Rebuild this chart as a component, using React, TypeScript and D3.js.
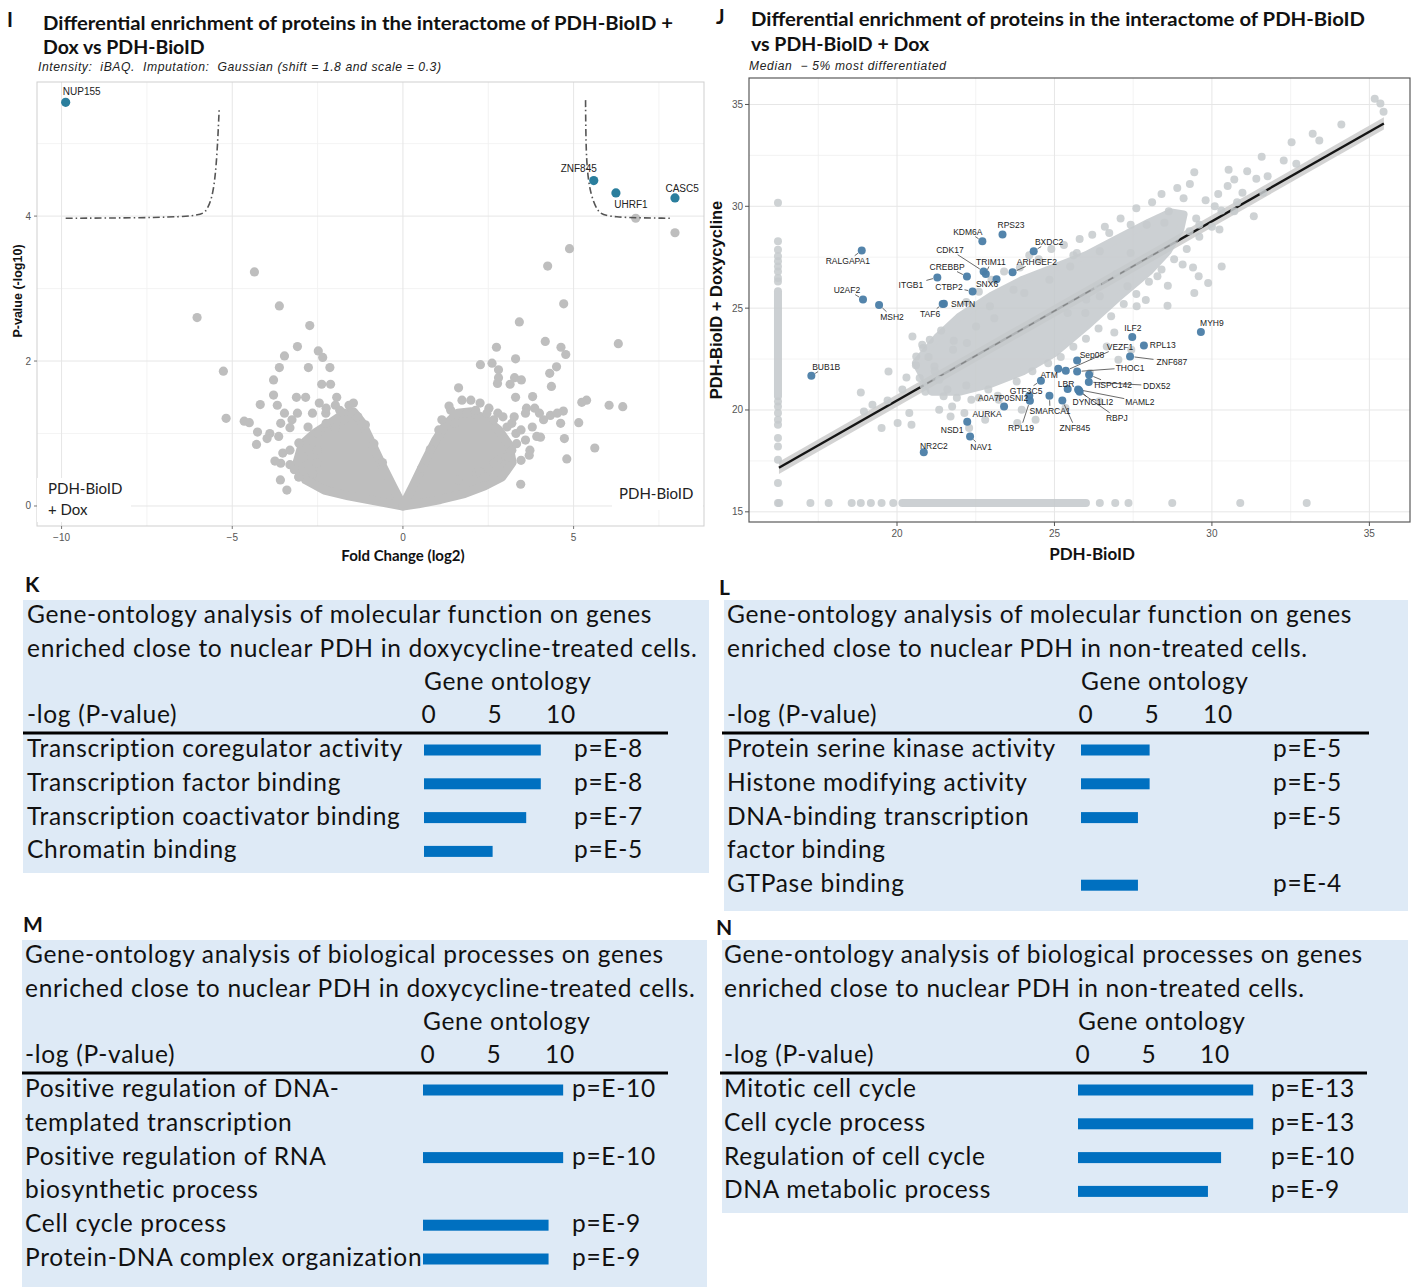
import React from 'react';
import * as d3 from 'd3';

// ---------- panel I : volcano ----------
const hitNames = ['NUP155', 'ZNF845', 'UHRF1', 'CASC5'];
const hitFc = [-9.88, 5.59, 6.24, 7.97];
const hitP = [5.57, 4.49, 4.32, 4.25];
const hitLabelFc = [-9.41, 5.15, 6.68, 8.18];
const hitLabelP = [5.72, 4.65, 4.16, 4.38];

const volFc = [
  6.82, 7.97, 4.88, 4.24, -4.35, -3.62, 4.71, -6.03, -2.73, 3.41, 6.31, 4.17, -3.09, 2.74, 4.63,
  -2.48, -3.47, 4.77, -2.35, 3.3, 2.61, 2.27, -3.62, -2.77, -2.14, -5.26, 4.5, 2.8, 4.3, 3.27,
  3.47, 2.8, -3.79, -2.38, -2.12, 3.14, 2.77, 1.63, 4.35, 3.8, 3.3, 5.38, 5.24, -3.79, -3.12,
  -2.85, -1.94, 6.04, 6.44, -4.18, -3.68, 3.62, 4.0, 4.7, 4.32, -5.18, -4.65, -4.5, -3.47, -3.09,
  5.15, 4.62, -4.26, -3.9, -4.29, 4.03, 4.73, 5.62, 4.8, -3.59, 2.88, 2.15, -3.31, -3.05, -3.52,
  -3.31, -3.05, -2.52, -1.73, -1.58, -1.32, -2.26, 1.14, 1.4, 1.73, 1.99, 2.26, 2.52, 2.78, 3.05,
  3.31, 3.19, 2.78, 2.26, 1.61,
  -3.58, -3.25, -2.78, -2.51, -2.25, -1.98, -1.72, -3.64, -3.98, -3.31, -2.91, -2.51, -3.58, -3.18,
  -2.65, -3.05, -1.98, -2.25, -2.45, -2.65, -1.85,
  1.53, 1.87, 2.13, 2.46, 2.66, 2.93, 3.19, 3.46, 3.79, 3.59, 3.92, 3.33, 3.72, 3.06, 2.66, 3.46,
  2.4, 3.26, 3.59, 3.86, 4.12, 4.52,
  -1.1, -0.85, -0.6, -1.45, 1.05, 0.8, 0.55, 1.35, -3.4, -3.75, 3.45, 3.7,
];
const volP = [
  3.97, 3.77, 3.55, 3.31, 3.23, 2.76, 2.79, 2.6, 2.49, 2.54, 2.24, 2.27, 2.2, 2.19, 2.19,
  2.14, 2.07, 2.09, 2.05, 2.03, 1.97, 1.95, 1.91, 1.91, 1.91, 1.86, 1.92, 1.88, 1.83, 1.77,
  1.74, 1.77, 1.74, 1.68, 1.68, 1.68, 1.69, 1.63, 1.65, 1.51, 1.5, 1.46, 1.43, 1.53, 1.5,
  1.5, 1.5, 1.39, 1.37, 1.4, 1.39, 1.35, 1.28, 1.31, 1.25, 1.21, 1.17, 1.15, 1.28, 1.28,
  1.15, 1.14, 1.02, 1.0, 0.85, 0.95, 0.93, 0.8, 0.65, 0.36, 0.43, 0.45, 1.08, 0.87, 0.73,
  0.57, 0.4, 0.59, 1.28, 1.39, 1.23, 1.28, 1.19, 1.32, 1.46, 1.46, 1.42, 1.35, 1.28, 1.09,
  1.0, 0.77, 0.63, 0.47, 0.36,
  1.14, 1.19, 1.09, 1.0, 1.14, 1.07, 1.19, 0.96, 0.93, 0.77, 0.68, 0.77, 0.59, 0.5,
  0.45, 0.4, 1.39, 1.35, 1.42, 1.28, 1.32,
  1.14, 1.28, 1.32, 1.28, 1.19, 1.23, 1.14, 1.05, 1.09, 0.91, 0.96, 0.86, 0.77, 0.68, 0.59, 0.63,
  0.4, 1.23, 1.28, 1.35, 1.19, 1.28,
  1.12, 0.86, 0.6, 1.42, 1.05, 0.78, 0.52, 1.38, 0.22, 0.62, 0.3, 0.7,
];

// dense part of the cloud, as outlines
const coreLeftFc = [0, -0.3, -0.65, -0.95, -1.2, -1.45, -1.8, -2.2, -2.6, -2.95, -3.1, -2.85, -2.3, -1.6, -0.9, -0.35];
const coreLeftP = [0, 0.27, 0.6, 0.9, 1.15, 1.3, 1.25, 1.12, 1.0, 0.85, 0.6, 0.36, 0.22, 0.14, 0.08, 0.03];
const coreRightFc = [0, 0.3, 0.65, 0.95, 1.25, 1.6, 2.0, 2.4, 2.8, 3.1, 3.2, 2.9, 2.4, 1.8, 1.1, 0.45];
const coreRightP = [0, 0.28, 0.62, 0.9, 1.12, 1.28, 1.3, 1.2, 1.05, 0.85, 0.6, 0.4, 0.28, 0.17, 0.09, 0.03];

const thrLeftFc = [-9.88, -6.0, -5.75, -5.55, -5.45, -5.4, -5.38];
const thrLeftP = [3.97, 3.98, 4.06, 4.3, 4.8, 5.3, 5.5];
const thrRightFc = [5.35, 5.36, 5.4, 5.5, 5.7, 6.0, 7.9];
const thrRightP = [5.6, 5.0, 4.6, 4.3, 4.05, 3.98, 3.97];

// ---------- panel J : scatter ----------
const geneNames = [
  'RALGAPA1', 'KDM6A', 'RPS23', 'BXDC2', 'CDK17', 'TRIM11', 'ARHGEF2', 'CREBBP', 'ITGB1', 'SNX6',
  'CTBP2', 'SMTN', 'TAF6', 'U2AF2', 'MSH2', 'BUB1B', 'ATM', 'GTF3C5', 'A0A7P0SNI2', 'RPL19',
  'AURKA', 'NSD1', 'NAV1', 'NR2C2', 'SMARCA1', 'ZNF845', 'LBR', 'DYNC1LI2', 'RBPJ', 'MAML2',
  'HSPC142', 'DDX52', 'THOC1', 'Sep08', 'VEZF1', 'ZNF687', 'ILF2', 'RPL13', 'MYH9',
];
const geneCtrl = [
  18.88, 22.71, 23.35, 24.34, 22.75, 22.82, 23.67, 22.22, 21.28, 23.16,
  22.4, 21.49, 21.45, 18.92, 19.43, 17.28, 25.12, 24.57, 24.2, 24.22,
  23.4, 22.23, 22.32, 20.85, 24.84, 25.25, 25.42, 25.78, 25.8, 25.75,
  26.1, 26.09, 25.72, 25.72, 25.36, 27.4, 27.47, 27.84, 29.65,
];
const geneDox = [
  27.83, 28.28, 28.61, 27.79, 26.8, 26.68, 26.76, 26.55, 26.51, 26.42,
  25.82, 25.22, 25.2, 25.43, 25.16, 21.68, 22.03, 21.44, 20.7, 20.45,
  20.17, 19.42, 18.7, 17.93, 20.7, 20.47, 21.03, 20.96, 20.9, 21.0,
  21.73, 21.37, 21.89, 22.43, 21.93, 22.63, 23.58, 23.16, 23.83,
];
const labelCtrl = [
  18.44, 22.25, 23.62, 24.83, 21.68, 22.98, 24.44, 21.59, 20.44, 22.86,
  21.65, 22.1, 21.05, 18.41, 19.84, 17.75, 24.83, 24.1, 23.37, 23.94,
  22.86, 21.75, 22.67, 21.17, 24.86, 25.65, 25.37, 26.22, 26.98, 27.71,
  26.86, 28.25, 27.4, 26.19, 27.08, 28.73, 27.49, 28.44, 30.0,
];
const labelDox = [
  27.33, 28.76, 29.1, 28.27, 27.87, 27.29, 27.29, 27.04, 26.15, 26.2,
  26.06, 25.22, 24.73, 25.91, 24.58, 22.13, 21.73, 20.95, 20.6, 19.13,
  19.82, 19.03, 18.19, 18.24, 19.96, 19.13, 21.29, 20.41, 19.62, 20.41,
  21.24, 21.19, 22.08, 22.71, 23.11, 22.37, 24.04, 23.21, 24.29,
];

const scatCtrl = [
  35.17, 35.35, 35.45, 34.11, 33.2, 33.41, 32.53, 31.58, 32.28, 32.68, 30.71, 31.12, 31.77, 31.63,
  31.41, 29.44, 30.24, 30.71, 31.33, 28.59, 27.42, 26.74, 26.44, 29.29, 28.63, 27.93, 27.42, 26.96,
  27.32, 27.61, 25.98, 19.73, 18.85, 18.95, 19.22, 19.51, 19.7, 20.02, 20.46, 20.39, 20.49, 20.83,
  21.04, 20.72, 20.84, 21.48, 21.75, 21.34, 21.7, 22.29, 22.8, 22.14, 23.82, 24.4, 25.35, 26.42,
  26.13, 27.03, 27.44, 26.66, 29.44, 29.88, 30.31, 29.58, 26.44, 26.37, 22.51, 23.09, 22.22, 21.78,
  22.95, 24.04, 24.84, 25.5, 25.71, 28.49, 30.09, 28.27, 29.07, 30.53, 30.97, 26.01, 25.42, 20.61,
  21.19, 20.17, 21.34, 22.36, 23.23, 23.96,
  20.3, 20.6, 20.9, 21.2, 21.0, 21.6, 21.9, 22.2, 22.6, 22.9, 23.2, 21.8, 21.4, 20.8,
  22.2, 22.6, 23.0, 23.4, 23.9, 24.5, 24.9, 25.3, 25.8, 26.2, 26.6, 27.1, 27.6, 28.1, 28.4, 28.9,
  29.3, 25.6, 24.2, 23.7,
  23.8, 24.3, 24.8, 25.2, 25.6, 26.0, 26.4, 26.8, 27.2, 27.6, 28.0, 28.4, 28.8, 29.2, 29.6, 30.0,
  26.9, 27.9, 28.6, 29.4,
  29.8, 30.2, 30.5, 29.5, 30.3, 30.8, 29.1, 29.6,
];
const scatDox = [
  35.28, 35.05, 34.64, 34.02, 33.56, 33.23, 33.15, 32.43, 32.25, 32.09, 31.32, 31.72, 31.48, 30.66,
  31.35, 31.67, 28.86, 29.76, 29.51, 25.12, 29.1, 28.69, 27.79, 28.77, 29.76, 29.1, 27.71, 26.68,
  26.07, 25.09, 24.76, 21.89, 20.86, 19.93, 20.26, 19.11, 20.47, 19.36, 19.28, 19.85, 23.61, 23.04,
  23.45, 21.57, 21.23, 20.67, 20.17, 20.01, 19.68, 19.11, 19.52, 19.85, 19.36, 19.52, 20.1, 20.42,
  21.81, 22.47, 22.96, 23.12, 25.74, 26.23, 27.05, 26.56, 25.58, 26.07, 24.1, 24.51, 23.29, 22.96,
  25.09, 25.74, 26.4, 27.05, 27.71, 29.19, 30.0, 26.56, 27.14, 31.8, 30.66, 25.42, 24.76, 22.63,
  22.14, 21.0, 21.49, 20.5, 20.5, 20.01,
  21.6, 22.2, 20.9, 21.9, 22.6, 21.0, 20.6, 21.2, 20.6, 21.0, 20.7, 23.4, 23.9, 23.2,
  25.3, 25.8, 26.4, 26.8, 27.0, 27.4, 27.9, 28.1, 28.4, 28.6, 29.0, 29.4, 29.9, 30.2, 30.6, 30.9,
  31.1, 27.6, 27.6, 25.9,
  21.4, 21.9, 22.3, 22.6, 23.1, 23.5, 24.0, 24.6, 25.2, 25.7, 26.3, 26.9, 27.4, 27.9, 28.5, 29.0,
  23.8, 25.4, 26.1, 27.0,
  30.3, 30.6, 31.0, 29.4, 29.8, 30.2, 30.4, 29.1,
];

// proteins missing in the control (imputed at the left edge)
const imputedCtrlX = 16.22;
const imputedCtrlY = [30.17, 28.28, 27.87, 27.55, 27.3, 27.05, 26.8, 26.48, 26.31, 20.42, 20.17, 19.85, 19.52, 19.28, 18.62, 18.21, 17.56, 16.41, 15.43];
const imputedCtrlRun = [20.67, 25.83];
// proteins missing in the dox sample (imputed at the bottom edge)
const imputedDoxY = 15.43;
const imputedDoxX = [16.26, 17.25, 17.83, 18.56, 18.85, 19.17, 19.51, 19.88, 26.44, 26.93, 27.35, 28.74, 30.9, 33.01];
const imputedDoxRun = [20.17, 26.0];

const coreCtrl = [20.6, 21.3, 22.0, 23.0, 24.0, 25.0, 26.0, 27.0, 28.0, 28.7, 29.1, 29.0, 28.6, 28.0, 27.0, 26.0, 25.0, 24.0, 23.0, 22.0, 21.1];
const coreDox = [22.3, 23.6, 24.6, 25.6, 26.4, 27.0, 27.6, 28.4, 29.2, 29.7, 29.6, 28.9, 27.8, 26.8, 25.5, 24.1, 22.8, 21.9, 21.3, 20.9, 20.9];

const fitCtrl = [16.25, 35.46];
const fitDox = [17.16, 34.07];

// ---------- panels K-N : gene ontology ----------
const kTerms = ['Transcription coregulator activity', 'Transcription factor binding', 'Transcription coactivator binding', 'Chromatin binding'];
const kValues = [8.0, 8.0, 7.0, 4.7];
const kP = ['p=E-8', 'p=E-8', 'p=E-7', 'p=E-5'];

const lTerms = ['Protein serine kinase activity', 'Histone modifying activity', 'DNA-binding transcription\nfactor binding', 'GTPase binding'];
const lValues = [4.7, 4.7, 3.9, 3.9];
const lP = ['p=E-5', 'p=E-5', 'p=E-5', 'p=E-4'];

const mTerms = ['Positive regulation of DNA-\ntemplated transcription', 'Positive regulation of RNA\nbiosynthetic process', 'Cell cycle process', 'Protein-DNA complex organization'];
const mValues = [9.6, 9.6, 8.6, 8.6];
const mP = ['p=E-10', 'p=E-10', 'p=E-9', 'p=E-9'];

const nTerms = ['Mitotic cell cycle', 'Cell cycle process', 'Regulation of cell cycle', 'DNA metabolic process'];
const nValues = [12.0, 12.0, 9.8, 8.9];
const nP = ['p=E-13', 'p=E-13', 'p=E-10', 'p=E-9'];

const goTicks = [0, 5, 10];

const ARIAL = 'Liberation Sans, Arial, sans-serif';
const CAL = 'Lato, sans-serif';

function Volcano() {
  const x = d3.scaleLinear().domain([-10.72, 8.82]).range([37, 704]);
  const y = d3.scaleLinear().domain([-0.276, 5.85]).range([526, 82]);
  const core = d3.line<number>().curve(d3.curveLinearClosed);
  const thrL = d3.line<[number, number]>().x(d => x(d[0])).y(d => y(d[1])).curve(d3.curveBasis);
  const leftPts = coreLeftFc.map((f, i) => [x(f), y(coreLeftP[i])] as [number, number]);
  const rightPts = coreRightFc.map((f, i) => [x(f), y(coreRightP[i])] as [number, number]);
  const grey = '#BEBEBE';
  return (
    <g>
      <rect x={37} y={82} width={667} height={444} fill="white" />
      {[-7.5, -2.5, 2.5, 7.5].map(v => <line key={'vx' + v} x1={x(v)} x2={x(v)} y1={82} y2={526} stroke="#F0F0F0" strokeWidth={0.8} />)}
      {[1, 3, 5].map(v => <line key={'vy' + v} y1={y(v)} y2={y(v)} x1={37} x2={704} stroke="#F0F0F0" strokeWidth={0.8} />)}
      {[-10, -5, 0, 5].map(v => <line key={'gx' + v} x1={x(v)} x2={x(v)} y1={82} y2={526} stroke="#E6E6E6" strokeWidth={1} />)}
      {[0, 2, 4].map(v => <line key={'gy' + v} y1={y(v)} y2={y(v)} x1={37} x2={704} stroke="#E6E6E6" strokeWidth={1} />)}
      <rect x={37} y={82} width={667} height={444} fill="none" stroke="#CFCFCF" strokeWidth={1} />
      <path d={core(leftPts as any) || ''} fill={grey} stroke={grey} strokeWidth={9} strokeLinejoin="round" />
      <path d={core(rightPts as any) || ''} fill={grey} stroke={grey} strokeWidth={9} strokeLinejoin="round" />
      {volFc.map((f, i) => <circle key={'v' + i} cx={x(f)} cy={y(volP[i])} r={4.6} fill={grey} />)}
      <path d={thrL(thrLeftFc.map((f, i) => [f, thrLeftP[i]] as [number, number])) || ''} fill="none" stroke="#555" strokeWidth={1.6} strokeDasharray="7,3,1.5,3" />
      <path d={thrL(thrRightFc.map((f, i) => [f, thrRightP[i]] as [number, number])) || ''} fill="none" stroke="#555" strokeWidth={1.6} strokeDasharray="7,3,1.5,3" />
      {hitNames.map((n, i) => (
        <g key={n}>
          <circle cx={x(hitFc[i])} cy={y(hitP[i])} r={4.6} fill="#2A7E9D" />
          <text x={x(hitLabelFc[i])} y={y(hitLabelP[i]) + 3.5} fontFamily={ARIAL} fontSize={10} fill="#222" textAnchor="middle">{n}</text>
        </g>
      ))}
      {/* corner labels */}
      <rect x={37} y={478} width={94} height={44} fill="white" />
      <text x={48} y={494} fontFamily={CAL} fontSize={15} fill="#222">PDH-BioID</text>
      <text x={48} y={515} fontFamily={CAL} fontSize={15} fill="#222">+ Dox</text>
      <rect x={612} y={482} width={91} height={28} fill="white" />
      <text x={619} y={499} fontFamily={CAL} fontSize={15} fill="#222">PDH-BioID</text>
      {/* axes */}
      {[0, 2, 4].map(v => (
        <g key={'ty' + v}>
          <line x1={34} x2={37} y1={y(v)} y2={y(v)} stroke="#777" />
          <text x={31} y={y(v) + 3.5} fontFamily={ARIAL} fontSize={10} fill="#555" textAnchor="end">{v}</text>
        </g>
      ))}
      {[-10, -5, 0, 5].map(v => (
        <g key={'tx' + v}>
          <line x1={x(v)} x2={x(v)} y1={526} y2={529} stroke="#777" />
          <text x={x(v)} y={541} fontFamily={ARIAL} fontSize={10} fill="#555" textAnchor="middle">{v < 0 ? '\u2212' + Math.abs(v) : v}</text>
        </g>
      ))}
      <text x={403} y={561} fontFamily={CAL} fontWeight="bold" fontSize={15} fill="#111" textAnchor="middle">Fold Change (log2)</text>
      <text transform="translate(22,291) rotate(-90)" fontFamily={ARIAL} fontWeight="bold" fontSize={12.5} fill="#111" textAnchor="middle">P-value (-log10)</text>
    </g>
  );
}

function Scatter() {
  const x = d3.scaleLinear().domain([15.3, 36.29]).range([749, 1410]);
  const y = d3.scaleLinear().domain([14.5, 36.3]).range([522, 78]);
  const grey = '#C6CACD';
  const core = d3.line<number>().curve(d3.curveLinearClosed);
  const corePts = coreCtrl.map((c, i) => [x(c), y(coreDox[i])] as [number, number]);
  const fit = d3.line<number>().x(d => x(d)).y((d, i) => y(fitDox[i]));
  const slope = (fitDox[1] - fitDox[0]) / (fitCtrl[1] - fitCtrl[0]);
  const fitAt = (c: number) => fitDox[0] + slope * (c - fitCtrl[0]);
  const band = d3.area<number>().x(d => x(d))
    .y0(d => y(fitAt(d) - 0.3))
    .y1(d => y(fitAt(d) + 0.3));
  const hidden = [20.6, 29.0];
  return (
    <g>
      {[17.5, 22.5, 27.5, 32.5].map(v => <line key={'mx' + v} x1={x(v)} x2={x(v)} y1={78} y2={522} stroke="#F0F0F0" strokeWidth={0.8} />)}
      {[17.5, 22.5, 27.5, 32.5].map(v => <line key={'my' + v} y1={y(v)} y2={y(v)} x1={749} x2={1410} stroke="#F0F0F0" strokeWidth={0.8} />)}
      {[20, 25, 30, 35].map(v => <line key={'gx' + v} x1={x(v)} x2={x(v)} y1={78} y2={522} stroke="#E6E6E6" strokeWidth={1} />)}
      {[15, 20, 25, 30, 35].map(v => <line key={'gy' + v} y1={y(v)} y2={y(v)} x1={749} x2={1410} stroke="#E6E6E6" strokeWidth={1} />)}
      <path d={band(fitCtrl) || ''} fill="#D3D3D3" />
      <path d={fit(fitCtrl) || ''} stroke="#151515" strokeWidth={2.4} fill="none" />
      <g opacity={0.88}>
        <path d={core(corePts as any) || ''} fill={grey} stroke={grey} strokeWidth={8} strokeLinejoin="round" />
        <line x1={x(imputedCtrlX)} x2={x(imputedCtrlX)} y1={y(imputedCtrlRun[0])} y2={y(imputedCtrlRun[1])} stroke={grey} strokeWidth={8} strokeLinecap="round" />
        <line y1={y(imputedDoxY)} y2={y(imputedDoxY)} x1={x(imputedDoxRun[0])} x2={x(imputedDoxRun[1])} stroke={grey} strokeWidth={8} strokeLinecap="round" />
      </g>
      {/* fit line faintly visible through the cloud */}
      <line x1={x(hidden[0])} y1={y(fitAt(hidden[0]))} x2={x(hidden[1])} y2={y(fitAt(hidden[1]))} stroke="#333" strokeWidth={1.4} opacity={0.35} strokeDasharray="6,7" />
      {scatCtrl.map((c, i) => <circle key={'s' + i} cx={x(c)} cy={y(scatDox[i])} r={4} fill={grey} opacity={0.85} />)}
      {imputedCtrlY.map((v, i) => <circle key={'ic' + i} cx={x(imputedCtrlX)} cy={y(v)} r={4} fill={grey} opacity={0.85} />)}
      {imputedDoxX.map((v, i) => <circle key={'id' + i} cx={x(v)} cy={y(imputedDoxY)} r={4} fill={grey} opacity={0.85} />)}
      {geneNames.map((n, i) => {
        const px = x(geneCtrl[i]), py = y(geneDox[i]);
        const lx = x(labelCtrl[i]), ly = y(labelDox[i]);
        const dx = px - lx, dy = py - ly;
        const hw = n.length * 2.9 + 1, hh = 5;
        const t = Math.min(dx === 0 ? 1e9 : hw / Math.abs(dx), dy === 0 ? 1e9 : hh / Math.abs(dy));
        const dist = Math.hypot(dx, dy);
        const ex = lx + dx * Math.min(1, t), ey = ly + dy * Math.min(1, t);
        const sx = px - (dx / dist) * 4.5, sy = py - (dy / dist) * 4.5;
        const show = t < 1 && Math.hypot(sx - ex, sy - ey) > 3 && (sx - ex) * dx + (sy - ey) * dy > 0;
        return (
          <g key={n}>
            {show && <line x1={sx} y1={sy} x2={ex} y2={ey} stroke="#444" strokeWidth={0.8} />}
          </g>
        );
      })}
      {geneNames.map((n, i) => <circle key={'p' + n} cx={x(geneCtrl[i])} cy={y(geneDox[i])} r={4} fill="#4A7DA6" opacity={0.95} />)}
      {geneNames.map((n, i) => (
        <text key={'t' + n} x={x(labelCtrl[i])} y={y(labelDox[i]) + 3} fontFamily={ARIAL} fontSize={8.5} fill="#222" textAnchor="middle">{n}</text>
      ))}
      <rect x={749} y={78} width={661} height={444} fill="none" stroke="#5A5A5A" strokeWidth={1.2} />
      {[15, 20, 25, 30, 35].map(v => (
        <g key={'ty' + v}>
          <line x1={745} x2={749} y1={y(v)} y2={y(v)} stroke="#555" />
          <text x={743} y={y(v) + 3.5} fontFamily={ARIAL} fontSize={10} fill="#555" textAnchor="end">{v}</text>
        </g>
      ))}
      {[20, 25, 30, 35].map(v => (
        <g key={'tx' + v}>
          <line x1={x(v)} x2={x(v)} y1={522} y2={526} stroke="#555" />
          <text x={x(v)} y={537} fontFamily={ARIAL} fontSize={10} fill="#555" textAnchor="middle">{v}</text>
        </g>
      ))}
      <text x={1092} y={560} fontFamily={CAL} fontWeight="bold" fontSize={17} fill="#111" textAnchor="middle">PDH-BioID</text>
      <text transform="translate(722,300) rotate(-90)" fontFamily={ARIAL} fontWeight="bold" fontSize={16.5} fill="#111" textAnchor="middle">PDH-BioID + Doxycycline</text>
    </g>
  );
}

type GoProps = {
  letter: string; letterX: number; letterY: number;
  box: [number, number, number, number];
  textX: number; barX: number; pX: number; rule: [number, number];
  title: string[]; terms: string[]; values: number[]; pLabels: string[];
};

function GoTable(p: GoProps) {
  const [bx0, by0, bx1, by1] = p.box;
  const lh = 33.8;
  const bar = d3.scaleLinear().domain([0, 10]).range([p.barX, p.barX + 146]);
  const tick = d3.scaleLinear().domain([0, 10]).range([p.barX + 5, p.barX + 137]);
  const fs = 24.5;
  const ls = 0.7;
  let line = 0;
  const rows = p.terms.map((t, i) => {
    const start = line;
    const parts = t.split('\n');
    line += parts.length;
    return { parts, start, i };
  });
  const rowY = (k: number) => by0 + 149 + k * lh;
  const txt = { fontFamily: CAL, fontSize: fs, fill: '#111', letterSpacing: ls } as const;
  return (
    <g>
      <text x={p.letterX} y={p.letterY} fontFamily={CAL} fontWeight="bold" fontSize={21} fill="#111">{p.letter}</text>
      <rect x={bx0} y={by0} width={bx1 - bx0} height={by1 - by0} fill="#DEEAF6" />
      {p.title.map((t, k) => (
        <text key={k} x={p.textX} y={by0 + 15 + k * 33.5 + 8} {...txt}>{t}</text>
      ))}
      <text x={p.barX} y={by0 + 82 + 8} {...txt}>Gene ontology</text>
      <text x={p.textX} y={by0 + 115 + 8} {...txt}>-log (P-value)</text>
      {goTicks.map(v => (
        <text key={v} x={tick(v)} y={by0 + 115 + 8} {...txt} textAnchor="middle">{v}</text>
      ))}
      <line x1={p.rule[0]} x2={p.rule[1]} y1={by0 + 133} y2={by0 + 133} stroke="#000" strokeWidth={3} />
      {rows.map(r => (
        <g key={r.i}>
          {r.parts.map((s, k) => (
            <text key={k} x={p.textX} y={rowY(r.start + k) + 8} {...txt}>{s}</text>
          ))}
          <rect x={bar(0)} y={rowY(r.start) - 4.5} width={bar(p.values[r.i]) - bar(0)} height={11} fill="#0070C0" />
          <text x={p.pX} y={rowY(r.start) + 8} {...txt}>{p.pLabels[r.i]}</text>
        </g>
      ))}
    </g>
  );
}

export default function App() {
  return (
    <svg width={1415} height={1287} viewBox="0 0 1415 1287" style={{ position: 'absolute', left: 0, top: 0, background: 'white' }}>
      <rect width={1415} height={1287} fill="white" />
      {/* panel I */}
      <text x={7} y={27} fontFamily={CAL} fontWeight="bold" fontSize={20} fill="#111">I</text>
      <text x={43} y={30} fontFamily={CAL} fontWeight="bold" fontSize={19.5} fill="#111" textLength={630} lengthAdjust="spacingAndGlyphs">Differential enrichment of proteins in the interactome of PDH-BioID +</text>
      <text x={43} y={54} fontFamily={CAL} fontWeight="bold" fontSize={19.5} fill="#111">Dox vs PDH-BioID</text>
      <text x={38} y={71} fontFamily={ARIAL} fontStyle="italic" fontSize={12.2} fill="#222" textLength={403} lengthAdjust="spacing" style={{ whiteSpace: 'pre' }}>Intensity:  iBAQ.  Imputation:  Gaussian (shift = 1.8 and scale = 0.3)</text>
      <Volcano />
      {/* panel J */}
      <text x={716} y={24} fontFamily={CAL} fontWeight="bold" fontSize={20} fill="#111">J</text>
      <text x={751} y={26} fontFamily={CAL} fontWeight="bold" fontSize={19.5} fill="#111" textLength={614} lengthAdjust="spacingAndGlyphs">Differential enrichment of proteins in the interactome of PDH-BioID</text>
      <text x={751} y={51} fontFamily={CAL} fontWeight="bold" fontSize={19.5} fill="#111">vs PDH-BioID + Dox</text>
      <text x={749} y={70} fontFamily={ARIAL} fontStyle="italic" fontSize={12} fill="#222" textLength={197} lengthAdjust="spacing" style={{ whiteSpace: 'pre' }}>Median  {'\u2212'} 5% most differentiated</text>
      <Scatter />
      <GoTable letter="K" letterX={25} letterY={592} box={[23, 600, 709, 873]} textX={27} barX={424} pX={574} rule={[23, 668]}
        title={['Gene-ontology analysis of molecular function on genes', 'enriched close to nuclear PDH in doxycycline-treated cells.']}
        terms={kTerms} values={kValues} pLabels={kP} />
      <GoTable letter="L" letterX={719} letterY={595} box={[724, 600, 1408, 911]} textX={727} barX={1081} pX={1273} rule={[722, 1369]}
        title={['Gene-ontology analysis of molecular function on genes', 'enriched close to nuclear PDH in non-treated cells.']}
        terms={lTerms} values={lValues} pLabels={lP} />
      <GoTable letter="M" letterX={23} letterY={932} box={[22, 940, 707, 1287]} textX={25} barX={423} pX={572} rule={[22, 668]}
        title={['Gene-ontology analysis of biological processes on genes', 'enriched close to nuclear PDH in doxycycline-treated cells.']}
        terms={mTerms} values={mValues} pLabels={mP} />
      <GoTable letter="N" letterX={716} letterY={935} box={[722, 940, 1408, 1213]} textX={724} barX={1078} pX={1271} rule={[720, 1367]}
        title={['Gene-ontology analysis of biological processes on genes', 'enriched close to nuclear PDH in non-treated cells.']}
        terms={nTerms} values={nValues} pLabels={nP} />
    </svg>
  );
}
